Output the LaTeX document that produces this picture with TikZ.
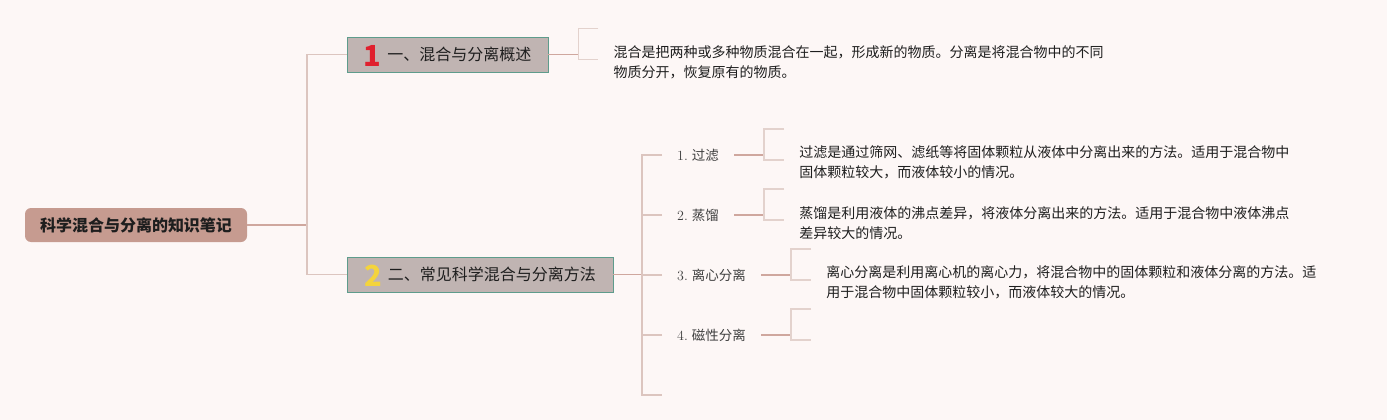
\documentclass[tikz,border=0pt]{standalone}
\usepackage{fontspec}
\newfontfamily\cjk{Noto Sans CJK SC}
\usetikzlibrary{positioning}
\definecolor{bgpink}{HTML}{FDF7F6}
\definecolor{rootfill}{HTML}{C69B90}
\definecolor{topicfill}{HTML}{C0B4B2}
\definecolor{topicedge}{HTML}{5E9C8C}
\definecolor{numred}{HTML}{E0202E}
\definecolor{numyellow}{HTML}{F4D43C}
\definecolor{treec}{HTML}{DCC5BF}
\definecolor{stemc}{HTML}{CFA79E}
\definecolor{brkc}{HTML}{E3D2CD}
\definecolor{ink}{HTML}{1E1E1E}
\newcommand{\numtag}[2]{{\color{#1}\bfseries\fontsize{29}{29}\selectfont\raisebox{-6pt}{#2}}\hspace{6pt}}

\begin{document}
\begin{tikzpicture}[
  x=1pt,y=-1pt,
  root/.style={fill=rootfill,rounded corners=6pt,minimum width=222pt,minimum height=34pt,font=\cjk\bfseries\fontsize{16}{16}\selectfont,text=ink},
  topic/.style={draw=topicedge,fill=topicfill,line width=0.8pt,minimum height=35pt,text height=14pt,text depth=2pt,font=\cjk\fontsize{16}{16}\selectfont,text=ink},
  kid/.style={inner xsep=15pt,inner ysep=2pt,font=\cjk\fontsize{13.5}{16}\selectfont,text=ink!85},
  desc/.style={inner xsep=15pt,inner ysep=0pt,align=left,font=\cjk\fontsize{14}{20}\selectfont,text=ink},
  tree/.style={draw=treec,line width=1.3pt},
  stem/.style={draw=stemc,line width=1.3pt},
  brk/.style={draw=brkc,line width=1.3pt}
]
\fill[bgpink] (0,0) rectangle (1387,420);
\useasboundingbox (0,0) rectangle (1387,420);
% --- root and the two topics ---
\node[root] (root) at (136,225) {科学混合与分离的知识笔记};
\node[topic,minimum width=201pt] (sec1) at (447.5,54.5) {\numtag{numred}{1}一、混合与分离概述};
\node[topic,minimum width=266pt] (sec2) at (480,274.5) {\numtag{numyellow}{2}二、常见科学混合与分离方法};
\coordinate (hub1) at (307,225);
\draw[stem] (root.east) -- (hub1);
\draw[tree] (sec1.west) -| (hub1) |- (sec2.west);
% --- methods ---
\coordinate (hub2) at (642,274.5);
\node[kid,anchor=west] (m1) at (662,155) {{\rmfamily\fontsize{14}{16}\selectfont 1.} 过滤};
\node[kid,anchor=west] (m2) at (662,215) {{\rmfamily\fontsize{14}{16}\selectfont 2.} 蒸馏};
\node[kid,anchor=west] (m3) at (662,275) {{\rmfamily\fontsize{14}{16}\selectfont 3.} 离心分离};
\node[kid,anchor=west] (m4) at (662,335) {{\rmfamily\fontsize{14}{16}\selectfont 4.} 磁性分离};
\node[kid,anchor=west] (m5) at (662,395) {};
\draw[stem] (sec2.east) -- (hub2);
\draw[tree] (m1.west) -- (m1.west -| hub2) -- (m5.west -| hub2) -- (m5.west);
\foreach \m in {m2,m3,m4}{\draw[tree] (\m.west) -- (\m.west -| hub2);}
% brackets in front of the notes
\foreach \m in {sec1,m1,m2,m3,m4}{
  \draw[stem] (\m.east) -- ++(30,0) coordinate (\m-k);
  \draw[brk] (\m-k) ++(20,-26) -- ++(-20,0) -- ++(0,31) -- ++(20,0);
}
% --- notes ---
\node[desc,right=20pt of sec1-k,yshift=-7.5pt] (note1) {混合是把两种或多种物质混合在一起，形成新的物质。分离是将混合物中的不同\\物质分开，恢复原有的物质。};
\node[desc,right=20pt of m1-k,yshift=-7.5pt] (notem1) {过滤是通过筛网、滤纸等将固体颗粒从液体中分离出来的方法。适用于混合物中\\固体颗粒较大，而液体较小的情况。};
\node[desc,right=20pt of m2-k,yshift=-8.5pt] (notem2) {蒸馏是利用液体的沸点差异，将液体分离出来的方法。适用于混合物中液体沸点\\差异较大的情况。};
\node[desc,right=20pt of m3-k,yshift=-7.5pt] (notem3) {离心分离是利用离心机的离心力，将混合物中的固体颗粒和液体分离的方法。适\\用于混合物中固体颗粒较小，而液体较大的情况。};
\end{tikzpicture}
\end{document}
